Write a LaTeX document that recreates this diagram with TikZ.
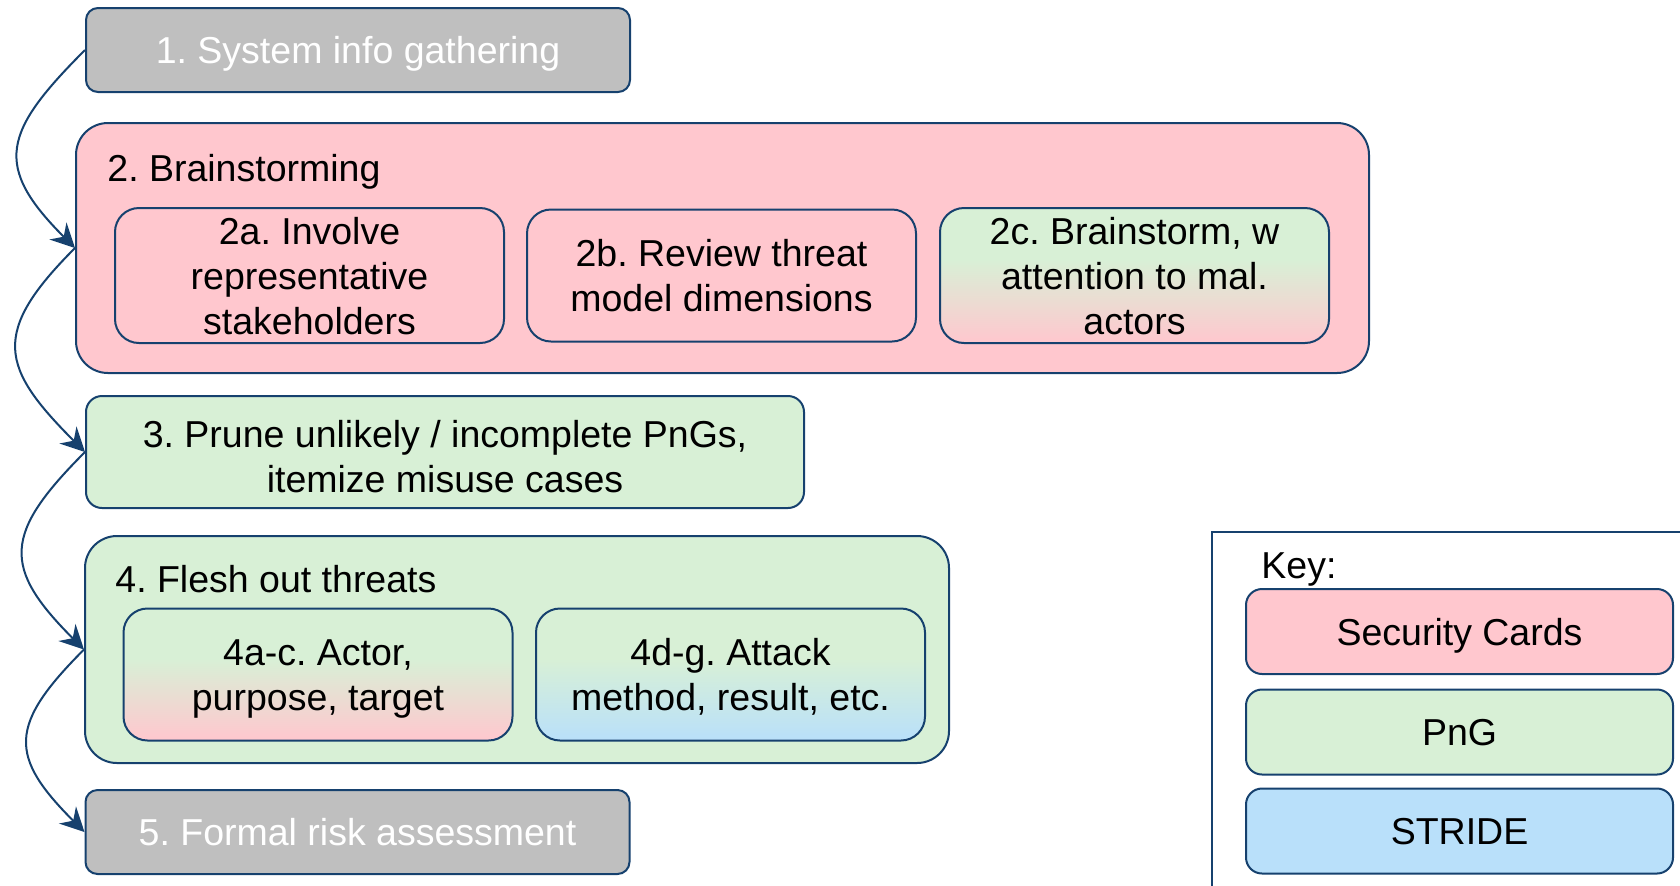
\documentclass[tikz,border=0pt]{standalone}
\usepackage{fontspec}
\setmainfont{Liberation Sans}
\usetikzlibrary{arrows.meta}

\definecolor{scpink}{RGB}{255,199,206}
\definecolor{pnggreen}{RGB}{216,240,214}
\definecolor{strideblue}{RGB}{185,224,250}
\definecolor{stepgray}{RGB}{191,191,191}
\definecolor{edge}{RGB}{22,65,110}

% green upper part fading into the second method's colour below
\pgfdeclareverticalshading{greenpink}{100bp}{color(0bp)=(scpink); color(25bp)=(scpink);
  color(56bp)=(pnggreen); color(100bp)=(pnggreen)}
\pgfdeclareverticalshading{greenblue}{100bp}{color(0bp)=(strideblue); color(25bp)=(strideblue);
  color(56bp)=(pnggreen); color(100bp)=(pnggreen)}

% line strut: every text line is 22.5pt tall, as in a slide text frame
\newcommand\ls{\rule[-4.275pt]{0pt}{22.5pt}}

\begin{document}
\frenchspacing
\begin{tikzpicture}[x=0.5pt,y=-0.5pt,
  every node/.style={font=\fontsize{18.75}{22.5}\selectfont},
  box/.style={draw=edge, line width=1pt, align=center, inner sep=0pt},
  stagebox/.style={box, rounded corners=6pt, minimum width=272pt, minimum height=42pt,
                   fill=stepgray, text=white},
  groupbox/.style={box, rounded corners=16pt},
  subbox/.style={box, rounded corners=12pt, minimum width=194.5pt, minimum height=66pt},
  keybox/.style={box, rounded corners=8pt, minimum width=213.5pt, minimum height=42.5pt},
  flow/.style={draw=edge, line width=1pt, -{Stealth[length=12pt,width=12pt,inset=4pt]}},
  hop/.style={out=225, in=135, looseness=1.5},
  title/.style={anchor=west, inner sep=0pt}]

\useasboundingbox (0,0) rectangle (1680,885);

% Step 1
\node[stagebox] (b1) at (358,50) {\ls 1. System info gathering};

% Step 2 and its sub-steps
\node[groupbox, fill=scpink, minimum width=646.5pt, minimum height=125pt] (b2) at (722.5,248) {};
\node[title] (t2) at (107,168) {\ls 2. Brainstorming};
\node[subbox, fill=scpink] (s2a) at (309.5,275.5) {\ls 2a. Involve\\representative\\stakeholders\ls};
\node[subbox, fill=scpink] (s2b) at (721.5,275.5) {\ls 2b. Review threat\\model dimensions\ls};
\node[subbox, shading=greenpink] (s2c) at (1134.5,275.5) {\ls 2c. Brainstorm, w\\attention to mal.\\actors\ls};

% Step 3
\node[box, rounded corners=8pt, fill=pnggreen, minimum width=359pt, minimum height=56pt] (b3) at (445,452)
  {\rule[-4.275pt]{0pt}{26.5pt}3. Prune unlikely / incomplete PnGs,\\itemize misuse cases\ls};

% Step 4 and its sub-steps
\node[groupbox, fill=pnggreen, minimum width=432pt, minimum height=113.5pt] (b4) at (517,649.5) {};
\node[title] (t4) at (115,579) {\ls 4. Flesh out threats};
\node[subbox, shading=greenpink] (s4a) at (318,674.5) {\ls 4a-c. Actor,\\purpose, target\ls};
\node[subbox, shading=greenblue] (s4d) at (730.5,674.5) {\ls 4d-g. Attack\\method, result, etc.\ls};

% Step 5
\node[stagebox] (b5) at (357.5,832) {\ls 5. Formal risk assessment};

% Flow between steps
\draw[flow] (b1.west) to[hop] (b2.west);
\draw[flow] (b2.west) to[hop] (b3.west);
\draw[flow] (b3.west) to[hop] (b4.west);
\draw[flow] (b4.west) to[hop] (b5.west);

% Key
\draw[edge, line width=1pt] (1700,532) -- (1212,532) -- (1212,900);
\node[title] (kt) at (1261,565) {\ls Key:};
\node[keybox, fill=scpink] (k1) at (1459.5,631.5) {\ls Security Cards};
\node[keybox, fill=pnggreen] (k2) at (1459.5,732) {\ls PnG};
\node[keybox, fill=strideblue] (k3) at (1459.5,831) {\ls STRIDE};

\end{tikzpicture}
\end{document}
